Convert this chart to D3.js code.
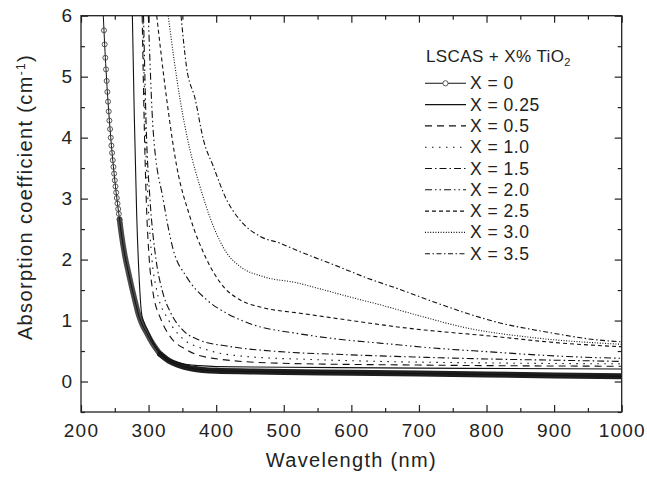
<!DOCTYPE html>
<html>
<head>
<meta charset="utf-8">
<script src="https://cdn.jsdelivr.net/npm/d3@7"></script>
<style>
  body { margin: 0; background: #fff; }
  svg text { font-family: "Liberation Sans", Arial, Helvetica, sans-serif; fill: #222; }
</style>
</head>
<body>
<script>
// values: [wavelength (nm), absorption coefficient (cm-1)]
var x0Marked = [[234,5.76],[235,5.53],[236,5.31],[237,5.12],[238,4.93],[239,4.75],[240,4.59],[241,4.43],
                [242,4.28],[243,4.14],[244,4.00],[245,3.87],[246,3.75],[247,3.63],[248,3.52],[249,3.41],
                [250,3.30],[251,3.20],[252,3.10],[253,3.01],[254,2.92],[255,2.83],[256,2.75],[257,2.66]];
var x0Knee = [[257,2.66],[260,2.40],[265,2.06],[270,1.80],[275,1.55],[280,1.32],[285,1.10],[290,0.95],
              [297,0.80],[305,0.64],[317,0.45]];
var x0Flat = [[317,0.45],[330,0.34],[345,0.27],[361,0.22],[380,0.19],[400,0.175],[450,0.165],[500,0.155],
              [600,0.145],[700,0.13],[800,0.115],[900,0.10],[1000,0.085]];
var x025 = [[276,6.0],[278.8,4.38],[282.4,2.74],[286.3,1.64],[289.8,1.10],[293,0.98],[299.6,0.82],[308,0.62],
            [321.7,0.43],[335,0.34],[350,0.29],[375,0.26],[400,0.245],[500,0.235],[700,0.22],[1000,0.205]];
var x05 = [[290.5,6.0],[294,4.0],[296.5,3.0],[301,2.0],[306,1.5],[319,1.0],[331.7,0.74],[356,0.52],
           [396,0.38],[494,0.30],[700,0.27],[1000,0.25]];
var x10 = [[291.5,6.0],[295.5,4.0],[299,3.0],[305,2.0],[312,1.5],[330,1.0],[347,0.74],[386,0.52],
           [445,0.41],[544,0.36],[642,0.33],[800,0.305],[1000,0.29]];
var x15 = [[292.5,6.0],[297,4.0],[302,3.0],[311,2.0],[320,1.5],[333,1.12],[350,0.85],[375,0.68],
           [420,0.575],[494,0.49],[593,0.44],[700,0.40],[800,0.37],[900,0.35],[1000,0.33]];
var x20 = [[299.6,6.0],[307,4.08],[321.7,2.98],[336.5,2.16],[356,1.72],[386,1.34],[415.5,1.12],[455,0.93],
           [519,0.79],[593,0.68],[642,0.63],[720,0.55],[800,0.49],[900,0.42],[1000,0.38]];
var x25 = [[312,6.0],[326.8,4.63],[341.6,3.53],[361,2.71],[386,2.00],[410.5,1.56],[435,1.34],[469.7,1.21],
           [524,1.12],[600,1.00],[672,0.89],[820,0.73],[900,0.64],[1000,0.57]];
var x30 = [[329,6.0],[346.5,4.63],[361,3.81],[376,3.20],[395.7,2.55],[415.5,2.11],[435,1.89],[469.7,1.72],
           [519,1.62],[560,1.50],[600,1.38],[642,1.26],[700,1.08],[770,0.88],[869,0.72],[1000,0.61]];
var x35 = [[348,6.0],[356,5.17],[369,4.63],[381,3.97],[395.7,3.53],[415.5,2.98],[435,2.65],[465,2.38],
           [494,2.27],[524,2.13],[573,1.92],[622.6,1.70],[672,1.51],[721,1.31],[770.6,1.12],[820,0.96],
           [869,0.85],[900,0.79],[950,0.70],[1000,0.65]];

var seriesNames = ["X = 0", "X = 0.25", "X = 0.5", "X = 1.0", "X = 1.5", "X = 2.0", "X = 2.5", "X = 3.0", "X = 3.5"];
var xTicks = [200, 300, 400, 500, 600, 700, 800, 900, 1000];
var xMinor = [250, 350, 450, 550, 650, 750, 850, 950];
var yTicks = [0, 1, 2, 3, 4, 5, 6];
var yMinor = [-0.5, 0.5, 1.5, 2.5, 3.5, 4.5, 5.5];

var width = 647, height = 485;
var mLeft = 81, mRight = 621.7, mTop = 15.7, mBottom = 412;

var x = d3.scaleLinear().domain([200, 1000]).range([mLeft, mRight]);
var y = d3.scaleLinear().domain([-0.5, 6]).range([mBottom, mTop]);

var svg = d3.select("body").append("svg")
    .attr("width", width)
    .attr("height", height);

svg.append("clipPath").attr("id", "plot")
  .append("rect")
    .attr("x", mLeft).attr("y", mTop)
    .attr("width", mRight - mLeft).attr("height", mBottom - mTop);

// axes, ticks pointing inward on all four sides
function styleAxis(g) {
  g.select(".domain").remove();
  g.selectAll(".tick line").attr("stroke", "#222").attr("stroke-width", 1.2);
}

svg.append("g")
    .attr("transform", "translate(0," + mBottom + ")")
    .call(d3.axisBottom(x).tickValues(xTicks).tickFormat(d3.format("d"))
      .tickSizeInner(-7).tickSizeOuter(0).tickPadding(12))
    .call(styleAxis)
    .selectAll("text")
      .style("font-size", "19px").style("letter-spacing", "1.2px").attr("fill", "#222");
svg.append("g")
    .attr("transform", "translate(0," + mBottom + ")")
    .call(d3.axisBottom(x).tickValues(xMinor).tickSize(-4).tickFormat(""))
    .call(styleAxis);
svg.append("g")
    .attr("transform", "translate(0," + mTop + ")")
    .call(d3.axisTop(x).tickValues(xTicks).tickSize(-7).tickFormat(""))
    .call(styleAxis);
svg.append("g")
    .attr("transform", "translate(0," + mTop + ")")
    .call(d3.axisTop(x).tickValues(xMinor).tickSize(-4).tickFormat(""))
    .call(styleAxis);

svg.append("g")
    .attr("transform", "translate(" + mLeft + ",0)")
    .call(d3.axisLeft(y).tickValues(yTicks).tickFormat(d3.format("d"))
      .tickSizeInner(-7).tickSizeOuter(0).tickPadding(9))
    .call(styleAxis)
    .selectAll("text")
      .style("font-size", "19px").attr("fill", "#222");
svg.append("g")
    .attr("transform", "translate(" + mLeft + ",0)")
    .call(d3.axisLeft(y).tickValues(yMinor).tickSize(-4).tickFormat(""))
    .call(styleAxis);
svg.append("g")
    .attr("transform", "translate(" + mRight + ",0)")
    .call(d3.axisRight(y).tickValues(yTicks).tickSize(-7).tickFormat(""))
    .call(styleAxis);
svg.append("g")
    .attr("transform", "translate(" + mRight + ",0)")
    .call(d3.axisRight(y).tickValues(yMinor).tickSize(-4).tickFormat(""))
    .call(styleAxis);

svg.append("rect")
    .attr("x", mLeft).attr("y", mTop)
    .attr("width", mRight - mLeft).attr("height", mBottom - mTop)
    .attr("fill", "none").attr("stroke", "#222").attr("stroke-width", 1.3);

// axis titles
svg.append("text")
    .attr("x", (mLeft + mRight) / 2).attr("y", 466.5)
    .attr("text-anchor", "middle")
    .style("font-size", "20px").style("letter-spacing", "1.3px")
    .text("Wavelength (nm)");

var yt = svg.append("text")
    .attr("transform", "translate(32,197) rotate(-90)")
    .attr("text-anchor", "middle")
    .style("font-size", "20px").style("letter-spacing", "1.35px");
yt.append("tspan").text("Absorption coefficient (cm");
yt.append("tspan").attr("dy", -7).style("font-size", "12px").text("-1");
yt.append("tspan").attr("dy", 7).text(")");

// curves
var line = d3.line()
    .x(function(d) { return x(d[0]); })
    .y(function(d) { return y(d[1]); })
    .curve(d3.curveMonotoneX);

var dashes = [null, null, "7,5", "1.5,5.5", "7,3,1.5,3", "7,3,1.5,3,1.5,3", "4,3", "1,1.6", "5,2.5,1.5,2.5"];
var curves = [null, x025, x05, x10, x15, x20, x25, x30, x35];

var plot = svg.append("g").attr("clip-path", "url(#plot)");

// X = 0: dense open circles merge into a thick band
plot.append("path")
    .attr("d", line(x0Knee))
    .attr("fill", "none")
    .attr("stroke", "#4a4a4a")
    .attr("stroke-width", 5.5)
    .attr("stroke-linecap", "round");
plot.append("path")
    .attr("d", line(x0Flat))
    .attr("fill", "none")
    .attr("stroke", "#1e1e1e")
    .attr("stroke-width", 6)
    .attr("stroke-linecap", "round");
plot.append("path")
    .attr("d", line([[233, 6.0]].concat(x0Marked, x0Knee.slice(1), x0Flat.slice(1))))
    .attr("fill", "none")
    .attr("stroke", "#111")
    .attr("stroke-width", 1);
plot.selectAll("circle.m").data(x0Marked).enter().append("circle")
    .attr("class", "m")
    .attr("cx", function(d) { return x(d[0]); })
    .attr("cy", function(d) { return y(d[1]); })
    .attr("r", 2.5)
    .attr("fill", "none")
    .attr("stroke", "#444")
    .attr("stroke-width", 0.9);

curves.forEach(function(c, i) {
  if (!c) return;
  plot.append("path")
      .attr("d", line(c))
      .attr("fill", "none")
      .attr("stroke", "#111")
      .attr("stroke-width", 1.1)
      .attr("stroke-dasharray", dashes[i]);
});

// legend
var legend = svg.append("g");
var lt = legend.append("text")
    .attr("x", 426).attr("y", 61.7)
    .style("font-size", "17px").style("letter-spacing", "0.4px");
lt.append("tspan").text("LSCAS + X% TiO");
lt.append("tspan").attr("dy", 4).style("font-size", "11px").text("2");

seriesNames.forEach(function(name, i) {
  var by = 89.3 + i * 21.3;
  legend.append("line")
      .attr("x1", 425).attr("x2", 466)
      .attr("y1", by - 6).attr("y2", by - 6)
      .attr("stroke", "#111")
      .attr("stroke-width", 1.1)
      .attr("stroke-dasharray", dashes[i]);
  if (i === 0) {
    legend.append("circle")
        .attr("cx", 445.5).attr("cy", by - 6).attr("r", 2.6)
        .attr("fill", "#fff").attr("stroke", "#444").attr("stroke-width", 0.9);
  }
  legend.append("text")
      .attr("x", 470).attr("y", by)
      .style("font-size", "17.5px").style("letter-spacing", "0.5px")
      .text(name);
});
</script>
</body>
</html>
